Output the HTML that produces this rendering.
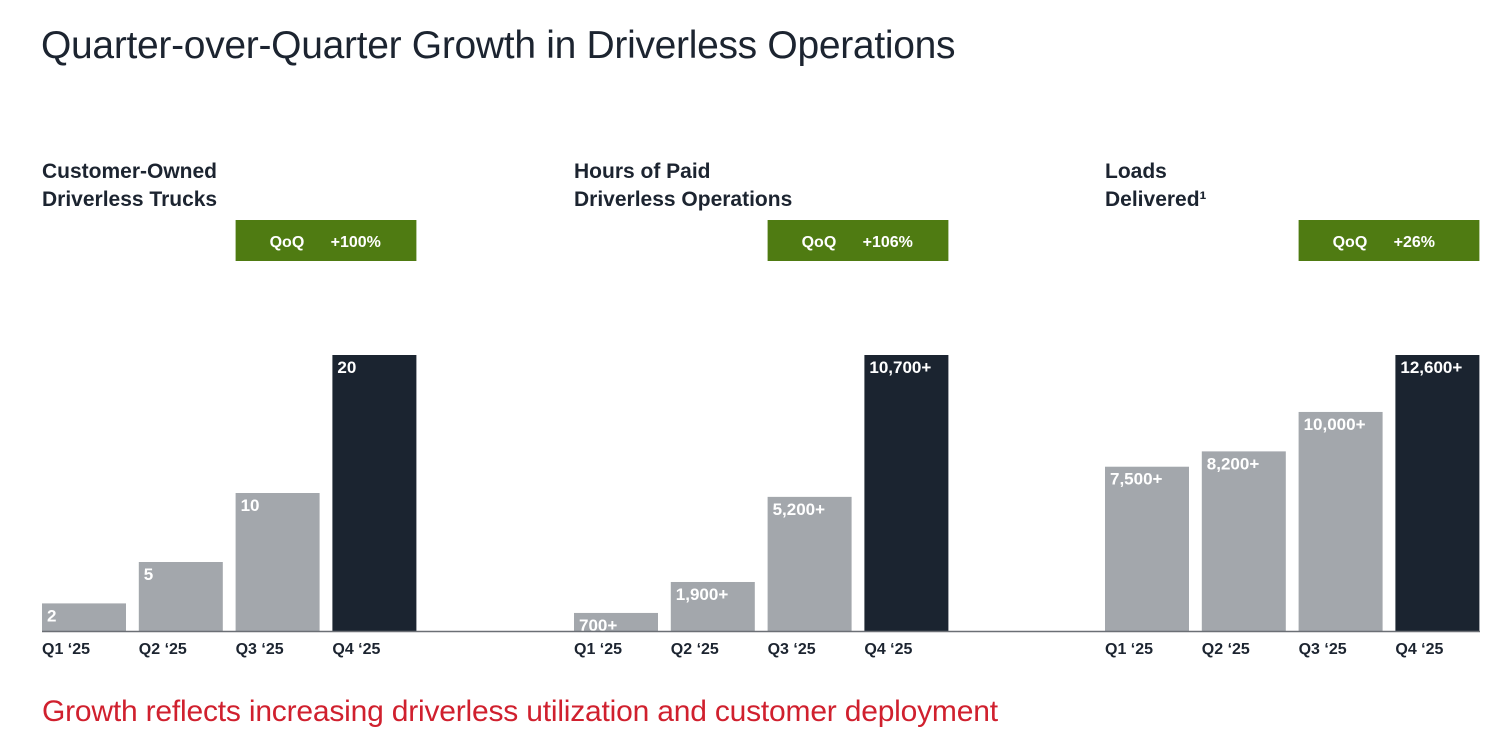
<!DOCTYPE html>
<html><head><meta charset="utf-8"><style>
body{margin:0;width:1501px;height:733px;background:#fff;font-family:"Liberation Sans",sans-serif;overflow:hidden;position:relative;color:#1c2430}
.t{position:absolute;white-space:nowrap}
</style></head><body>
<div class="t" style="left:41px;top:24px;font-size:39px;letter-spacing:-0.3px">Quarter-over-Quarter Growth in Driverless Operations</div>
<svg id="c" width="1501" height="733" style="position:absolute;left:0;top:0"></svg>
<div class="t" style="left:42px;top:695px;font-size:30px;color:#d0202e;letter-spacing:-0.2px">Growth reflects increasing driverless utilization and customer deployment</div>
<script>
const quarters=["Q1 '25","Q2 '25","Q3 '25","Q4 '25"];
const titles1=["Customer-Owned","Hours of Paid","Loads"];
const titles2=["Driverless Trucks","Driverless Operations","Delivered¹"];
const qoq=["+100%","+106%","+26%"];
const trucks=[2,5,10,20];
const hours=[700,1900,5200,10700];
const loads=[7500,8200,10000,12600];
const labelsTrucks=["2","5","10","20"];
const labelsHours=["700+","1,900+","5,200+","10,700+"];
const labelsLoads=["7,500+","8,200+","10,000+","12,600+"];
const series=[trucks,hours,loads];
const labels=[labelsTrucks,labelsHours,labelsLoads];
const svg=document.getElementById('c');
const NS='http://www.w3.org/2000/svg';
const panelX=[42,574,1105], base=631, maxH=276, bw=84, pitch=96.8;
function mk(t,a){const e=document.createElementNS(NS,t);for(const k in a)e.setAttribute(k,a[k]);svg.appendChild(e);return e;}
series.forEach((vals,p)=>{
  const x0=panelX[p], mx=Math.max(...vals);
  const y=v=>base-v/mx*maxH;
  let t=mk('text',{x:x0,y:178,'font-size':21,'font-weight':'bold',fill:'#1c2430'});t.textContent=titles1[p];
  
  
  t=mk('text',{x:x0,y:206,'font-size':21,'font-weight':'bold',fill:'#1c2430'});t.textContent=titles2[p];
  
  
  const bx=x0+2*pitch;
  let r=mk('rect',{x:bx,y:220,width:(x0+3*pitch+bw)-bx,height:41,fill:'#4f7b12'});
  
  
  t=mk('text',{x:bx+34,y:247,'font-size':16,fill:'#fff','font-weight':'bold'});t.textContent='QoQ';
  
  
  t=mk('text',{x:bx+95,y:247,'font-size':16,fill:'#fff','font-weight':'bold'});t.textContent=qoq[p];
  
  
  vals.forEach((v,i)=>{
    const x=x0+i*pitch;
    const b=mk('rect',{x:x,y:y(v),width:bw,height:base-y(v),fill:i==3?'#1b2430':'#a3a7ac'});
    
    
    const l=mk('text',{x:x+5,y:y(v)+18,'font-size':17,'font-weight':'bold',fill:'#fff'});l.textContent=labels[p][i];
    
    
    const q=mk('text',{x:x,y:654,'font-size':16,'font-weight':'bold',fill:'#1c2430'});q.textContent=quarters[i].replace("'","‘");
    
    
  });
});
const ln=mk('line',{x1:42,x2:1480,y1:base+0.5,y2:base+0.5,stroke:'#6b6f75','stroke-width':1.5});


</script>
</body></html>
